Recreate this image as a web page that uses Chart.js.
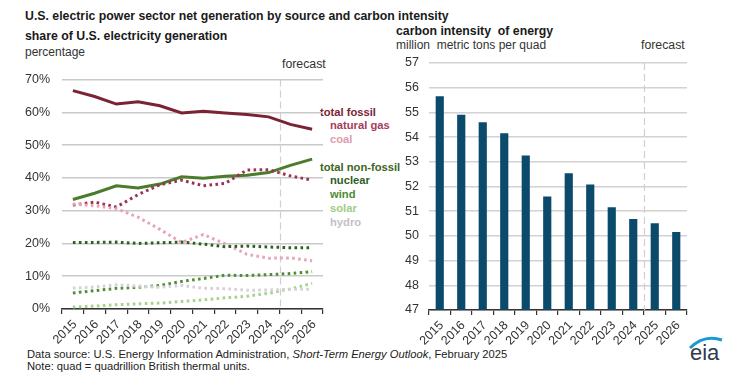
<!DOCTYPE html>
<html><head><meta charset="utf-8">
<script src="https://cdn.jsdelivr.net/npm/chart.js@4.4.1/dist/chart.umd.min.js"></script>
<style>
body{margin:0;background:#fff;width:733px;height:373px;overflow:hidden;position:relative;font-family:"Liberation Sans",Arial,sans-serif;color:#1a1a1a}
.t{position:absolute;white-space:nowrap;line-height:1}
.b{font-weight:bold}
.box{position:absolute}
</style></head><body>
<div class="t b" style="left:25px;top:10px;font-size:12.3px">U.S. electric power sector net generation by source and carbon intensity</div>
<div class="t b" style="left:25px;top:30px;font-size:12.3px">share of U.S. electricity generation</div>
<div class="t" style="left:25px;top:46px;font-size:12px;color:#333">percentage</div>
<div class="t" style="left:282px;top:58px;font-size:12.3px;color:#333">forecast</div>
<div class="t b" style="left:396px;top:25px;font-size:12.3px">carbon intensity&nbsp; of energy</div>
<div class="t" style="left:396px;top:39px;font-size:12px;color:#333">million&nbsp; metric tons per quad</div>
<div class="t" style="left:641px;top:39px;font-size:12.3px;color:#333">forecast</div>

<div class="t b" style="left:320px;top:107px;font-size:11.2px;color:#7a2433">total fossil</div>
<div class="t b" style="left:330px;top:120px;font-size:11.2px;color:#a53d5b">natural gas</div>
<div class="t b" style="left:330px;top:134px;font-size:11.2px;color:#e09aad">coal</div>
<div class="t b" style="left:320px;top:162px;font-size:11.2px;color:#3c6622">total non-fossil</div>
<div class="t b" style="left:330px;top:175px;font-size:11.2px;color:#2f5d24">nuclear</div>
<div class="t b" style="left:330px;top:189px;font-size:11.2px;color:#4e8a32">wind</div>
<div class="t b" style="left:330px;top:203px;font-size:11.2px;color:#a0cc84">solar</div>
<div class="t b" style="left:330px;top:217px;font-size:11.2px;color:#c5c0c8">hydro</div>

<div class="t" style="left:27px;top:349px;font-size:11.2px;color:#222">Data source: U.S. Energy Information Administration, <i>Short-Term Energy Outlook</i>, February 2025</div>
<div class="t" style="left:27px;top:361px;font-size:11.2px;color:#222">Note: quad = quadrillion British thermal units.</div>

<svg style="position:absolute;left:686px;top:332px" width="40" height="36">
<path d="M4 16 Q18 2 36 8" stroke="#1a9ad6" stroke-width="3" fill="none"/>
</svg>
<div class="t" style="left:690px;top:342px;font-size:22px;color:#2e3c4c">eia</div>

<div class="box" style="left:0px;top:60px;width:370px;height:300px"><canvas id="c1" width="370" height="300"></canvas></div>
<div class="box" style="left:370px;top:40px;width:363px;height:320px"><canvas id="c2" width="363" height="320"></canvas></div>

<script>
const years = ['2015','2016','2017','2018','2019','2020','2021','2022','2023','2024','2025','2026'];
const totalFossil    = [66.6, 64.8, 62.5, 63.2, 62.0, 59.8, 60.3, 59.8, 59.3, 58.6, 56.3, 54.8];
const naturalGas     = [31.7, 32.6, 31.1, 34.9, 37.9, 39.3, 37.6, 38.3, 42.4, 42.5, 40.6, 39.3];
const coal           = [32.0, 31.5, 30.6, 28.0, 24.3, 20.3, 22.7, 19.9, 16.7, 15.5, 15.6, 14.7];
const totalNonFossil = [33.4, 35.3, 37.6, 36.9, 38.1, 40.3, 39.9, 40.5, 40.8, 41.6, 43.8, 45.7];
const nuclear        = [20.3, 20.3, 20.4, 20.0, 20.2, 20.4, 19.8, 19.0, 19.2, 18.9, 18.7, 18.7];
const wind           = [4.9, 5.6, 6.3, 6.6, 7.2, 8.4, 9.3, 10.3, 10.2, 10.5, 10.8, 11.4];
const solar          = [0.6, 0.9, 1.3, 1.6, 1.8, 2.3, 2.8, 3.4, 3.9, 4.8, 6.1, 7.8];
const hydro          = [6.4, 6.7, 7.4, 7.0, 6.6, 7.2, 6.3, 6.2, 5.7, 5.8, 6.0, 6.0];
const carbonIntensity = [55.65, 54.9, 54.6, 54.16, 53.26, 51.6, 52.54, 52.08, 51.16, 50.68, 50.51, 50.16];
const pctTicks = [0, 10, 20, 30, 40, 50, 60, 70];
const ciTicks = [47, 48, 49, 50, 51, 52, 53, 54, 55, 56, 57];
const forecastIndex = 10;

Chart.defaults.font.family = '"Liberation Sans", Arial, sans-serif';
Chart.defaults.color = '#333';

const forecastLine = {
  id: 'forecastLine',
  beforeDatasetsDraw(chart) {
    const {ctx, chartArea, scales: {x}} = chart;
    const px = Math.round(x.getPixelForValue(forecastIndex - 0.5)) + 0.5;
    ctx.save();
    ctx.strokeStyle = '#cfcfcf';
    ctx.lineWidth = 1.2;
    ctx.setLineDash([7, 4]);
    ctx.beginPath();
    ctx.moveTo(px, chartArea.top);
    ctx.lineTo(px, chartArea.bottom);
    ctx.stroke();
    ctx.restore();
  }
};

function dotted(data, color) {
  return { data, borderColor: color, borderWidth: 3, borderDash: [2.6, 3.4], pointRadius: 0, tension: 0, fill: false };
}
function solid(data, color) {
  return { data, borderColor: color, borderWidth: 3, pointRadius: 0, tension: 0, fill: false };
}

const xAxisCommon = {
  type: 'category',
  offset: true,
  grid: { display: true, offset: true, drawOnChartArea: false, drawTicks: true, tickLength: 5, color: '#333', lineWidth: 1.2 },
  border: { display: true, color: '#333', width: 1.5 },
  ticks: { minRotation: 45, maxRotation: 45, autoSkip: false, font: { size: 12.5 }, color: '#333', labelOffset: 2, padding: 3 }
};

new Chart(document.getElementById('c1'), {
  type: 'line',
  data: {
    labels: years,
    datasets: [
      dotted(hydro, '#d6d0da'),
      dotted(solar, '#a5d38a'),
      dotted(wind, '#4f8d35'),
      dotted(nuclear, '#2d5e22'),
      dotted(coal, '#e8a3b5'),
      dotted(naturalGas, '#9b3350'),
      solid(totalNonFossil, '#4a7c2b'),
      solid(totalFossil, '#7a2433')
    ]
  },
  options: {
    responsive: false, animation: false, devicePixelRatio: 1,
    layout: { padding: { left: 0, right: 47, top: 11, bottom: 0 } },
    plugins: { legend: { display: false }, tooltip: { enabled: false } },
    scales: {
      x: Object.assign({}, xAxisCommon, { afterFit(s) { s.height = 51; } }),
      y: {
        min: 0, max: 70,
        afterBuildTicks(s) { s.ticks = pctTicks.map(v => ({ value: v })); },
        afterFit(s) { s.width = 62; },
        grid: { color: '#c9c9c9', lineWidth: 1.5, drawTicks: false },
        border: { display: false },
        ticks: { padding: 12, font: { size: 12.5 }, color: '#333', callback: v => v + '%' }
      }
    }
  },
  plugins: [forecastLine]
});

new Chart(document.getElementById('c2'), {
  type: 'bar',
  data: {
    labels: years,
    datasets: [{ data: carbonIntensity, backgroundColor: '#0b4a6b', categoryPercentage: 1, barPercentage: 0.38 }]
  },
  options: {
    responsive: false, animation: false, devicePixelRatio: 1,
    layout: { padding: { left: 0, right: 46, top: 23, bottom: 0 } },
    plugins: { legend: { display: false }, tooltip: { enabled: false } },
    scales: {
      x: Object.assign({}, xAxisCommon, { afterFit(s) { s.height = 50; } }),
      y: {
        min: 47, max: 57,
        afterBuildTicks(s) { s.ticks = ciTicks.map(v => ({ value: v })); },
        afterFit(s) { s.width = 59; },
        grid: { color: '#d2d2d2', lineWidth: 1.5, drawTicks: false },
        border: { display: false },
        ticks: { padding: 10, font: { size: 12.5 }, color: '#333' }
      }
    }
  },
  plugins: [forecastLine]
});
</script>
</body></html>
